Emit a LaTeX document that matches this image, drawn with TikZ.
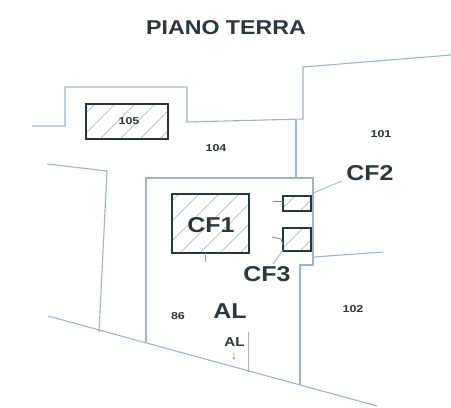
\documentclass[tikz,border=0pt]{standalone}
\usepackage{fontspec}
\setmainfont{Liberation Sans}
\newfontfamily\widefont[FakeStretch=1.16]{Liberation Sans}
\newfontfamily\numfont[FakeStretch=1.25]{Liberation Sans}
\definecolor{wall}{HTML}{9DB4C4}
\definecolor{ink}{HTML}{2B363C}
\definecolor{hatchc}{HTML}{B4C6D3}
\newcommand{\hatchbox}[5]{%
  \begin{scope}
    \clip (#2,#3) rectangle (#4,#5);
    \foreach \s in {-40,-20,...,520} {\draw[hatchc,line width=.8pt] (\s,#5) -- ++(60,-60);}
  \end{scope}
  \node[cfbox,anchor=north west,minimum width=#4pt-#2pt,minimum height=#5pt-#3pt] (#1) at (#2,#3) {};
}
\tikzset{
  wallline/.style={draw=wall,line width=1.1pt,line join=miter},
  thinline/.style={draw=wall,line width=.8pt},
  cfbox/.style={draw=ink,line width=1.9pt,inner sep=0pt,outer sep=0pt},
  lab/.style={text=ink,inner sep=0pt,font=\numfont\bfseries\fontsize{10}{11}\selectfont},
  biglab/.style={text=ink,inner sep=0pt,font=\widefont\bfseries\fontsize{21.5}{24}\selectfont},
}
\begin{document}
\begin{tikzpicture}[x=1pt,y=-1pt]
\useasboundingbox[fill=white] (0,0) rectangle (451,408);
% walls
\draw[wallline] (32,126) -- (65,126) -- (65,87) -- (187,87) -- (187,122) -- (303,119) -- (303,67) -- (451,55);
\draw[wallline] (296,120) -- (296,178);
\draw[wallline] (146,342) -- (146,178) -- (313,178) -- (313,265) -- (300,265) -- (300,385);
\draw[wallline] (314,257) -- (383,252);
\draw[wallline] (47,164) -- (107,171) -- (99,332);
\draw[wallline] (48,316) -- (377,406);
\draw[thinline] (248,332) -- (248,372);
% hatched boxes
\hatchbox{b105}{86}{104}{168}{139}
\hatchbox{cf1}{172}{194}{249}{253}
\hatchbox{cf2}{283}{196}{311}{211}
\hatchbox{cf3}{283}{228}{311}{251}
% labels
\node[text=ink,inner sep=0pt,font=\widefont\bfseries\fontsize{20}{22}\selectfont] (title) at (226,28) {PIANO TERRA};
\node[lab] (l105) at (129,121.5) {105};
\node[lab] (l104) at (216,148) {104};
\node[lab] (l101) at (381,134) {101};
\node[lab] (l102) at (353,309) {102};
\node[lab] (l86) at (178,316.5) {86};
\node[biglab] (tcf1) at (211,225) {CF1};
\node[biglab] (tcf2) at (370,173) {CF2};
\node[biglab] (tcf3) at (267,274) {CF3};
\node[biglab] (tal) at (230,311) {AL};
\node[text=ink,inner sep=0pt,font=\widefont\bfseries\fontsize{13}{14}\selectfont] (tal2) at (234.5,342) {AL};
\node[text=ink!70,inner sep=0pt,font=\fontsize{11}{12}\selectfont] (tal3) at (234,357) {↓};
% leaders
\coordinate (c2a) at (342,181);
\coordinate (c2b) at (313,193);
\coordinate (c3a) at (283,250);
\coordinate (c3b) at (273,264);
\draw[thinline] (c2a) -- (c2b);
\draw[thinline] (c3a) -- (c3b);
\coordinate (t1) at (273,201);
\coordinate (t2) at (272,237);
\coordinate (t3) at (281,239);
\draw[thinline,draw=ink!60] (t1) -- (cf2.west |- t1);
\draw[thinline,draw=ink!60] (t2) -- (t3) -- (283,245);
\draw[thinline,draw=ink!50] (cf1.south -| 205,253) -- (205,262);
\end{tikzpicture}
\end{document}
